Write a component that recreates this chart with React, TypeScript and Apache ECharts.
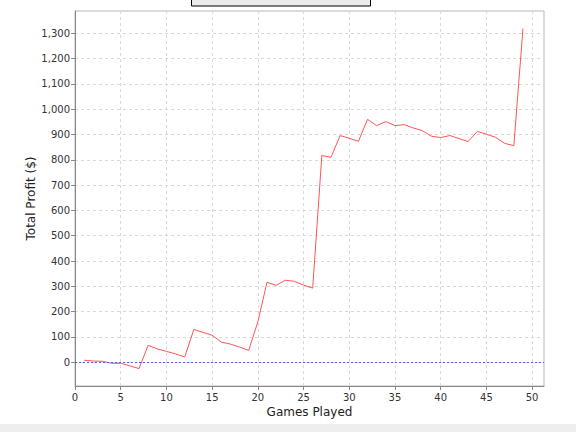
import React, { useEffect, useRef } from "react";
import * as echarts from "echarts";

const games = [
  1, 2, 3, 4, 5, 6, 7, 8, 9, 10, 11, 12, 13, 14, 15, 16, 17, 18, 19, 20, 21, 22, 23, 24, 25,
  26, 27, 28, 29, 30, 31, 32, 33, 34, 35, 36, 37, 38, 39, 40, 41, 42, 43, 44, 45, 46, 47, 48, 49,
];
const profit = [
  8, 5, 4, -4, -4, -14, -25, 67, 53, 43, 33, 21, 130, 118, 107, 80, 72, 60, 47, 160, 316, 304,
  324, 320, 305, 293, 817, 810, 896, 885, 873, 960, 935, 951, 935, 939, 926, 915, 893, 888, 896,
  884, 872, 912, 901, 889, 865, 856, 1319,
];
const xTicks = [0, 5, 10, 15, 20, 25, 30, 35, 40, 45, 50];
const yTicks = [0, 100, 200, 300, 400, 500, 600, 700, 800, 900, 1000, 1100, 1200, 1300];

const FONT = "DejaVu Sans";

export default function App() {
  const ref = useRef<HTMLDivElement>(null);
  useEffect(() => {
    if (!ref.current) return;
    const chart = echarts.init(ref.current, null, { renderer: "svg" });
    const splitLine = {
      show: true,
      lineStyle: { color: "#d9d9d9", type: [3, 3] as any, width: 1 },
    };
    chart.setOption({
      animation: false,
      backgroundColor: "#ffffff",
      grid: {
        left: 75,
        right: 32,
        top: 11,
        bottom: 46,
        show: true,
        borderColor: "#b8b8b8",
        borderWidth: 1,
        backgroundColor: "#ffffff",
      },
      xAxis: {
        type: "value",
        min: 0,
        max: 51.3,
        name: "Games Played",
        nameLocation: "middle",
        nameGap: 20,
        nameMoveOverlap: false,
        nameTextStyle: { fontFamily: FONT, fontSize: 12, color: "#222" },
        axisLine: { show: true, onZero: false, lineStyle: { color: "#888", width: 1 } },
        axisTick: { show: true, length: 4, customValues: xTicks, lineStyle: { color: "#888" } },
        axisLabel: {
          customValues: xTicks,
          fontFamily: FONT,
          fontSize: 10,
          color: "#333",
          margin: 6,
        },
        splitLine,
      },
      yAxis: {
        type: "value",
        min: -93.7,
        max: 1388,
        name: "Total Profit ($)",
        nameLocation: "middle",
        nameGap: 38,
        nameMoveOverlap: false,
        nameTextStyle: { fontFamily: FONT, fontSize: 12, color: "#222" },
        axisLine: { show: true, onZero: false, lineStyle: { color: "#888", width: 1 } },
        axisTick: { show: true, length: 4, customValues: yTicks, lineStyle: { color: "#888" } },
        axisLabel: {
          customValues: yTicks,
          fontFamily: FONT,
          fontSize: 10,
          color: "#333",
          margin: 5,
          formatter: (v: number) => v.toLocaleString("en-US"),
        },
        splitLine,
      },
      series: [
        {
          type: "line",
          data: games.map((g, i) => [g, profit[i]]),
          showSymbol: false,
          lineStyle: { color: "#ff5555", width: 1 },
          itemStyle: { color: "#ff5555" },
          markLine: {
            silent: true,
            symbol: "none",
            label: { show: false },
            lineStyle: { color: "#5a5aff", type: [2, 2] as any, width: 1 },
            data: [{ yAxis: 0 }],
          },
        },
      ],
      graphic: [
        {
          type: "rect",
          shape: { x: 191.5, y: -10, width: 179, height: 16 },
          style: { fill: "#ebebeb", stroke: "#000", lineWidth: 1 },
        },
        {
          type: "rect",
          shape: { x: 0, y: 424, width: 576, height: 8 },
          style: { fill: "#eeeeee", stroke: "none" },
        },
      ],
    });
    return () => chart.dispose();
  }, []);
  return (
    <div
      ref={ref}
      style={{ position: "fixed", left: 0, top: 0, width: 576, height: 432 }}
    />
  );
}
